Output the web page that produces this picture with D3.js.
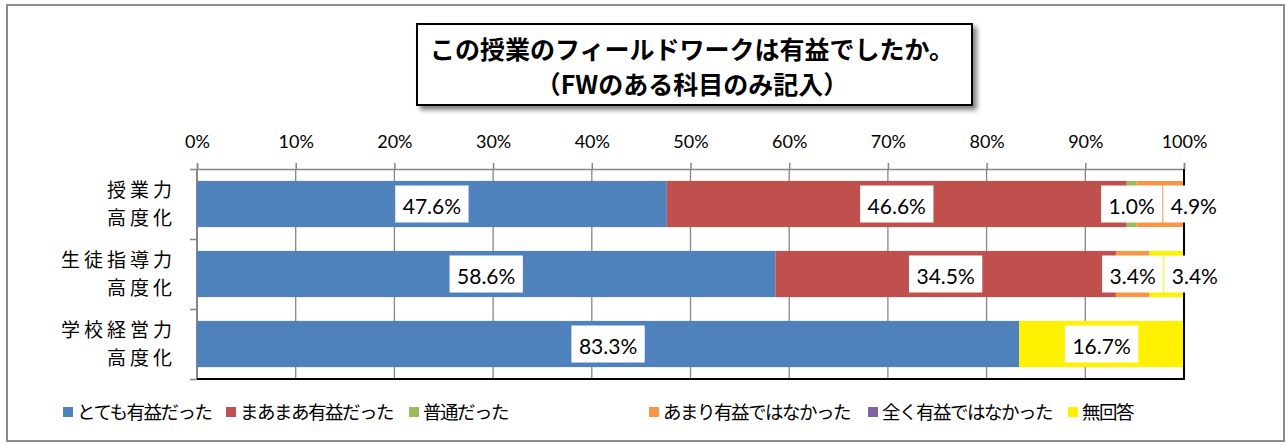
<!DOCTYPE html>
<html><head><meta charset="utf-8">
<script src="https://cdn.jsdelivr.net/npm/d3@7"></script>
<style>
html,body{margin:0;padding:0;background:#fff;}
svg{display:block;}
</style>
</head><body>
<svg id="chart" width="1287" height="443"></svg>
<script>
const titleLines = ["この授業のフィールドワークは有益でしたか。", "（FWのある科目のみ記入）"];
const categories = [["授業力","高度化"], ["生徒指導力","高度化"], ["学校経営力","高度化"]];
const seriesNames = ["とても有益だった","まあまあ有益だった","普通だった","あまり有益ではなかった","全く有益ではなかった","無回答"];
const seriesColors = ["#4F81BD","#C0504D","#9BBB59","#F79646","#8064A2","#FFF100"];
const valTotallyUseful = [47.6, 58.6, 83.3];
const valFairlyUseful  = [46.6, 34.5, 0];
const valNeutral       = [1.0, 0, 0];
const valNotVery       = [4.9, 3.4, 0];
const valNotAtAll      = [0, 0, 0];
const valNoAnswer      = [0, 3.4, 16.7];
const tickValues = [0,10,20,30,40,50,60,70,80,90,100];

const series = [valTotallyUseful, valFairlyUseful, valNeutral, valNotVery, valNotAtAll, valNoAnswer];
const numFont = "Lato, 'Noto Sans CJK JP', sans-serif";
const jpFont = "'Noto Sans CJK JP', sans-serif";

const svg = d3.select("#chart");

// outer border
svg.append("rect").attr("x",7).attr("y",5).attr("width",1277).attr("height",436)
  .attr("fill","#fff").attr("stroke","#8c8c8c").attr("stroke-width",2);

const pLeft = 197, pRight = 1184, pTop = 169, pBottom = 379;
const x = d3.scaleLinear().domain([0,100]).range([pLeft,pRight]);
const y = d3.scaleBand().domain(d3.range(categories.length)).range([pTop,pBottom])
  .paddingInner(0.34).paddingOuter(0.17);

// gridlines
svg.append("g").selectAll("line").data(tickValues.slice(1,-1)).join("line")
  .attr("x1",d=>x(d)).attr("x2",d=>x(d)).attr("y1",pTop).attr("y2",pBottom)
  .attr("stroke","#868686").attr("stroke-width",1.3);

// top axis
const xAxis = d3.axisTop(x).tickValues(tickValues).tickFormat(d=>d+"%").tickSize(6).tickPadding(15);
const gx = svg.append("g").attr("transform",`translate(0,${pTop})`).call(xAxis);
gx.select(".domain").attr("stroke","#868686").attr("stroke-width",1.5);
gx.selectAll(".tick line").attr("stroke","#868686").attr("stroke-width",1.5);
gx.selectAll(".tick text").attr("font-family",numFont).attr("font-size",18).attr("fill","#000");

// left axis
const yB = d3.scaleLinear().domain([0,categories.length]).range([pTop,pBottom]);
const gy = svg.append("g").attr("transform",`translate(${pLeft},0)`)
  .call(d3.axisLeft(yB).tickValues(d3.range(categories.length+1)).tickSize(7).tickFormat(""));
gy.select(".domain").attr("stroke","#868686").attr("stroke-width",2).attr("d",`M0,${pTop}V${pBottom}`);
gy.selectAll(".tick line").attr("stroke","#868686").attr("stroke-width",1.5);

// category labels
categories.forEach((lines,i)=>{
  const cy = y(i)+y.bandwidth()/2;
  lines.forEach((ln,j)=>{
    svg.append("text").attr("text-anchor","end")
      .attr("font-family",jpFont).attr("font-size",19).attr("fill","#000")
      .attr("x",176).attr("y",cy+(j===0?-7:21)).attr("letter-spacing","4px").text(ln);
  });
});

// stacked bars
const stacked = categories.map((c,i)=>{
  let acc = 0;
  return series.map((s,k)=>{ const v=s[i]; const seg={row:i,k,v,x0:acc,x1:acc+v}; acc+=v; return seg; });
});
const barG = svg.append("g");
stacked.forEach(row=>{
  barG.selectAll(null).data(row.filter(d=>d.v>0)).join("rect")
    .attr("x",d=>x(d.x0)).attr("width",d=>Math.min(x(d.x1),pRight)-x(d.x0))
    .attr("y",d=>y(d.row)).attr("height",y.bandwidth())
    .attr("fill",d=>seriesColors[d.k]);
});

// plot border right/bottom
svg.append("line").attr("x1",pLeft).attr("x2",pRight+1).attr("y1",pBottom).attr("y2",pBottom).attr("stroke","#000").attr("stroke-width",2);
svg.append("line").attr("x1",pRight).attr("x2",pRight).attr("y1",pTop).attr("y2",pBottom).attr("stroke","#000").attr("stroke-width",2);

// data labels
const labG = svg.append("g");
stacked.forEach(row=>{
  let prevRight = -Infinity;
  row.filter(d=>d.v>0).forEach(d=>{
    const cx = x((d.x0+Math.min(d.x1,100))/2);
    const cy = y(d.row)+y.bandwidth()/2;
    const g = labG.append("g");
    const rect = g.append("rect").attr("fill","#fff");
    const t = g.append("text").attr("font-family",numFont).attr("font-size",21).attr("fill","#000")
      .attr("text-anchor","middle").attr("dominant-baseline","central").text(d.v.toFixed(1)+"%");
    const w = t.node().getComputedTextLength()+15, h=37;
    let bx = cx - w/2;
    if (bx < prevRight+1) bx = prevRight+1;
    prevRight = bx + w;
    rect.attr("x",bx).attr("y",cy-h/2).attr("width",w).attr("height",h);
    t.attr("x",bx+w/2).attr("y",cy+1);
  });
});

// title box
const defs = svg.append("defs");
const f = defs.append("filter").attr("id","sh").attr("x","-10%").attr("y","-20%").attr("width","130%").attr("height","160%");
f.append("feGaussianBlur").attr("in","SourceAlpha").attr("stdDeviation",2.5).attr("result","b");
f.append("feOffset").attr("in","b").attr("dx",4).attr("dy",4).attr("result","o");
f.append("feComponentTransfer").attr("in","o").attr("result","o2").append("feFuncA").attr("type","linear").attr("slope",0.5);
const fm = f.append("feMerge"); fm.append("feMergeNode").attr("in","o2"); fm.append("feMergeNode").attr("in","SourceGraphic");
svg.append("rect").attr("x",417).attr("y",24).attr("width",555).attr("height",81)
  .attr("fill","#fff").attr("stroke","#000").attr("stroke-width",2).attr("filter","url(#sh)");
titleLines.forEach((ln,i)=>{
  svg.append("text").attr("x",692).attr("y",59+i*35).attr("text-anchor","middle")
    .attr("font-family",jpFont).attr("font-weight","bold").attr("font-size",25).attr("fill","#000").text(ln);
});

// legend
const legendX = [63,226,409,649,868,1068];
const lg = svg.append("g");
seriesNames.forEach((n,k)=>{
  lg.append("rect").attr("x",legendX[k]).attr("y",407).attr("width",10).attr("height",10).attr("fill",seriesColors[k]);
  lg.append("text").attr("x",legendX[k]+14).attr("y",419).attr("font-family",jpFont).attr("font-size",18.5)
    .attr("letter-spacing","-1.5px").attr("fill","#000").text(n);
});
</script>
</body></html>
